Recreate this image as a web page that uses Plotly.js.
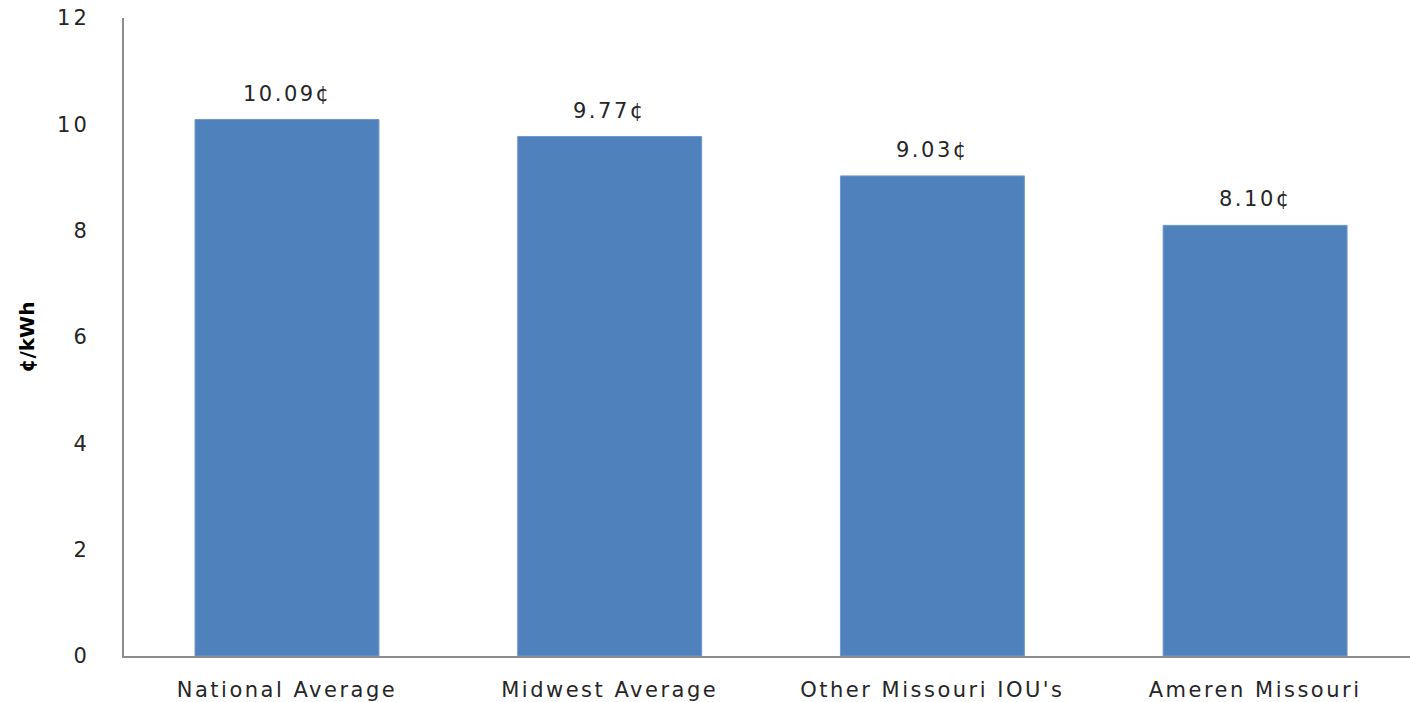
<!DOCTYPE html>
<html><head><meta charset="utf-8">
<script src="https://cdn.plot.ly/plotly-3.0.1.min.js"></script>
<style>
html,body{margin:0;padding:0;background:#fff;}
#chart{width:1410px;height:702px;}
.xtick text{letter-spacing:2.5px;}
.ytick text{letter-spacing:3px;}
.annotation-text{letter-spacing:2.5px;}
</style>
</head><body><div id="chart"></div>
<script>
const categories = ["National Average", "Midwest Average", "Other Missouri IOU's", "Ameren Missouri"];
const values = [10.09, 9.77, 9.03, 8.10];
const valueLabels = ["10.09¢", "9.77¢", "9.03¢", "8.10¢"];
const yTicks = [0, 2, 4, 6, 8, 10, 12];

const font = "DejaVu Sans, Verdana, sans-serif";
const trace = {
  type: 'bar', x: categories, y: values,
  marker: {color: '#4F81BD', line: {color: '#6E98CC', width: 1}},
  width: 0.57, hoverinfo: 'skip'
};
const annotations = categories.map((c, i) => ({
  x: c, y: values[i], text: valueLabels[i], showarrow: false,
  yanchor: 'bottom', yshift: 12, font: {family: font, size: 21, color: '#262626'}
}));
const layout = {
  width: 1410, height: 702,
  margin: {l: 124, r: 0, t: 18, b: 46},
  paper_bgcolor: '#fff', plot_bgcolor: '#fff',
  showlegend: false,
  xaxis: {
    type: 'category', range: [-0.505, 3.48],
    showline: true, linecolor: '#8C8C8C', linewidth: 2,
    showgrid: false, zeroline: false, ticks: '',
    ticklabelstandoff: 14,
    tickfont: {family: font, size: 21, color: '#262626'}
  },
  yaxis: {
    range: [0, 12], tickvals: yTicks, ticktext: yTicks.map(String),
    showline: true, linecolor: '#8C8C8C', linewidth: 2,
    showgrid: false, zeroline: false, ticks: '',
    ticklabelstandoff: 28,
    tickfont: {family: font, size: 21, color: '#262626'},
    title: {text: '¢/kWh', standoff: 17, font: {family: font, size: 20, color: '#000', weight: 'bold'}}
  },
  annotations: annotations
};
Plotly.newPlot('chart', [trace], layout, {displayModeBar: false, staticPlot: true});
</script></body></html>
